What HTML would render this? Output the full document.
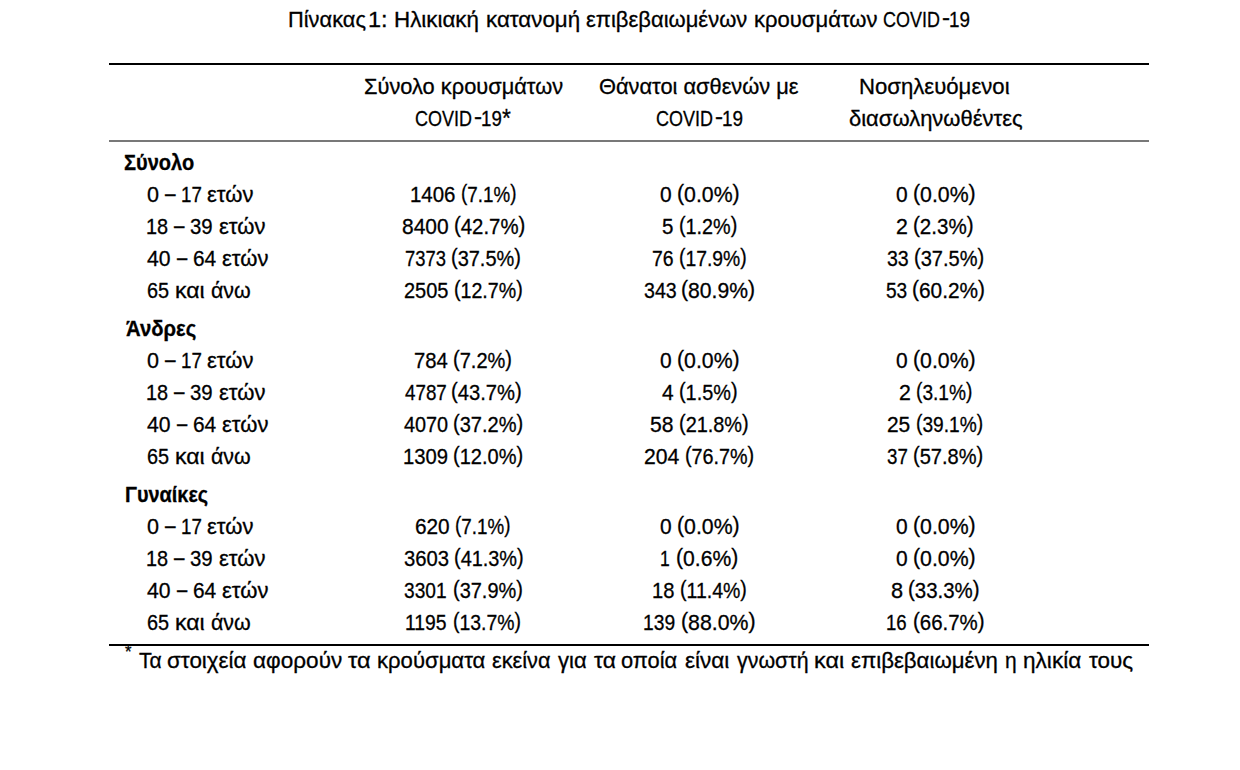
<!DOCTYPE html>
<html lang="el"><head><meta charset="utf-8"><title>Πίνακας 1</title>
<style>
html,body{margin:0;padding:0;background:#fff;}
body{width:1240px;height:770px;position:relative;overflow:hidden;font-family:"Liberation Sans",sans-serif;color:#000;}
.t{position:absolute;transform-origin:0 0;white-space:pre;line-height:1;font-size:22px;color:#000;-webkit-text-stroke:0.3px #000;}
.t i{font-style:normal;position:relative;top:-2px;}
.rule{position:absolute;left:109px;width:1040px;background:#000;}
</style></head><body>
<div class="caption">
  <div class="t" style="left:287.61px;top:9px;font-size:22.5px;transform:scaleX(0.9700)">Πίνακας</div>
  <div class="t" style="left:367.86px;top:9px;font-size:22.5px;transform:scaleX(1.0460)">1:</div>
  <div class="t" style="left:393.81px;top:9px;font-size:22.5px;transform:scaleX(0.9938)">Ηλικιακή</div>
  <div class="t" style="left:485.64px;top:9px;font-size:22.5px;transform:scaleX(0.9932)">κατανομή</div>
  <div class="t" style="left:585.65px;top:9px;font-size:22.5px;transform:scaleX(0.9769)">επιβεβαιωμένων</div>
  <div class="t" style="left:753.66px;top:9px;font-size:22.5px;transform:scaleX(0.9795)">κρουσμάτων</div>
  <div class="t" style="left:883.11px;top:9px;font-size:22.5px;transform:scaleX(0.7990)">COVID</div>
  <div class="t" style="left:949.09px;top:9px;font-size:22.5px;transform:scaleX(0.8382)">19</div>
  <div class="t" style="left:942.39px;top:7px;font-size:22.5px;transform:scaleX(1.0702)">-</div>
</div>
<div class="table">
  <div class="rule" style="top:63px;height:2px"></div>
  <div class="thead">
    <div class="th">
      <div class="t" style="left:363.50px;top:76px;font-size:22px;transform:scaleX(0.9916)">Σύνολο κρουσμάτων</div>
      <div class="t" style="left:474.30px;top:106px;font-size:22px;transform:scaleX(1.0933)">-</div>
      <div class="t" style="left:415.01px;top:108px;font-size:22px;transform:scaleX(0.8171)">COVID</div>
      <div class="t" style="left:481.01px;top:108px;font-size:22px;transform:scaleX(0.8480)">19</div>
      <div class="t" style="left:502.07px;top:106px;font-size:25px;transform:scaleX(0.9095)">*</div>
    </div>
    <div class="th">
      <div class="t" style="left:599.42px;top:76px;font-size:22px;transform:scaleX(0.9914)">Θάνατοι ασθενών με</div>
      <div class="t" style="left:714.90px;top:106px;font-size:22px;transform:scaleX(1.0933)">-</div>
      <div class="t" style="left:655.61px;top:108px;font-size:22px;transform:scaleX(0.8171)">COVID</div>
      <div class="t" style="left:721.59px;top:108px;font-size:22px;transform:scaleX(0.8616)">19</div>
    </div>
    <div class="th">
      <div class="t" style="left:859.44px;top:76px;font-size:22px;transform:scaleX(1.0062)">Νοσηλευόμενοι</div>
      <div class="t" style="left:848.63px;top:108px;font-size:22px;transform:scaleX(0.9992)">διασωληνωθέντες</div>
    </div>
  </div>
  <div class="rule" style="top:140px;height:2px;background:#787878"></div>
  <div class="tbody">
    <div class="grp">
      <div class="t" style="left:124.46px;top:152px;font-size:22px;transform:scaleX(0.9105);font-weight:bold">Σύνολο</div>
    </div>
    <div class="row">
      <div class="t" style="left:147.00px;top:184px;font-size:22px;transform:scaleX(0.9800)">0</div>
      <div class="t" style="left:164.93px;top:183px;font-size:22px;transform:scaleX(0.8623)">–</div>
      <div class="t" style="left:180.70px;top:184px;font-size:22px;transform:scaleX(0.8504)">17</div>
      <div class="t" style="left:206.90px;top:184px;font-size:22px;transform:scaleX(1.0006)">ετών</div>
      <div class="t" style="left:410.18px;top:184px;font-size:22px;transform:scaleX(0.9292)">1406</div>
      <div class="t" style="left:460.96px;top:184px;font-size:22px;transform:scaleX(0.8546)"><i>(</i>7.1%<i>)</i></div>
      <div class="t" style="left:659.92px;top:184px;font-size:22px;transform:scaleX(0.9522)">0</div>
      <div class="t" style="left:676.93px;top:184px;font-size:22px;transform:scaleX(0.9668)"><i>(</i>0.0%<i>)</i></div>
      <div class="t" style="left:895.92px;top:184px;font-size:22px;transform:scaleX(0.9522)">0</div>
      <div class="t" style="left:912.93px;top:184px;font-size:22px;transform:scaleX(0.9668)"><i>(</i>0.0%<i>)</i></div>
    </div>
    <div class="row">
      <div class="t" style="left:146.32px;top:216px;font-size:22px;transform:scaleX(0.9034)">18</div>
      <div class="t" style="left:174.33px;top:215px;font-size:22px;transform:scaleX(0.8543)">–</div>
      <div class="t" style="left:190.36px;top:216px;font-size:22px;transform:scaleX(0.9261)">39</div>
      <div class="t" style="left:219.00px;top:216px;font-size:22px;transform:scaleX(1.0006)">ετών</div>
      <div class="t" style="left:401.93px;top:216px;font-size:22px;transform:scaleX(0.9531)">8400</div>
      <div class="t" style="left:454.28px;top:216px;font-size:22px;transform:scaleX(0.9249)"><i>(</i>42.7%<i>)</i></div>
      <div class="t" style="left:661.92px;top:216px;font-size:22px;transform:scaleX(0.9319)">5</div>
      <div class="t" style="left:678.61px;top:216px;font-size:22px;transform:scaleX(0.8995)"><i>(</i>1.2%<i>)</i></div>
      <div class="t" style="left:896.47px;top:216px;font-size:22px;transform:scaleX(0.9688)">2</div>
      <div class="t" style="left:912.96px;top:216px;font-size:22px;transform:scaleX(0.9348)"><i>(</i>2.3%<i>)</i></div>
    </div>
    <div class="row">
      <div class="t" style="left:147.36px;top:248px;font-size:22px;transform:scaleX(0.9613)">40</div>
      <div class="t" style="left:176.83px;top:247px;font-size:22px;transform:scaleX(0.8383)">–</div>
      <div class="t" style="left:193.08px;top:248px;font-size:22px;transform:scaleX(0.9475)">64</div>
      <div class="t" style="left:222.40px;top:248px;font-size:22px;transform:scaleX(1.0006)">ετών</div>
      <div class="t" style="left:405.18px;top:248px;font-size:22px;transform:scaleX(0.8357)">7373</div>
      <div class="t" style="left:451.40px;top:248px;font-size:22px;transform:scaleX(0.9075)"><i>(</i>37.5%<i>)</i></div>
      <div class="t" style="left:651.74px;top:248px;font-size:22px;transform:scaleX(0.8820)">76</div>
      <div class="t" style="left:678.63px;top:248px;font-size:22px;transform:scaleX(0.8793)"><i>(</i>17.9%<i>)</i></div>
      <div class="t" style="left:886.89px;top:248px;font-size:22px;transform:scaleX(0.8883)">33</div>
      <div class="t" style="left:914.09px;top:248px;font-size:22px;transform:scaleX(0.9101)"><i>(</i>37.5%<i>)</i></div>
    </div>
    <div class="row">
      <div class="t" style="left:146.83px;top:280px;font-size:22px;transform:scaleX(0.9019)">65</div>
      <div class="t" style="left:174.90px;top:280px;font-size:22px;transform:scaleX(1.0478)">και</div>
      <div class="t" style="left:210.95px;top:280px;font-size:22px;transform:scaleX(0.9728)">άνω</div>
      <div class="t" style="left:404.13px;top:280px;font-size:22px;transform:scaleX(0.9087)">2505</div>
      <div class="t" style="left:454.32px;top:280px;font-size:22px;transform:scaleX(0.8914)"><i>(</i>12.7%<i>)</i></div>
      <div class="t" style="left:643.69px;top:280px;font-size:22px;transform:scaleX(0.8892)">343</div>
      <div class="t" style="left:681.33px;top:280px;font-size:22px;transform:scaleX(0.9597)"><i>(</i>80.9%<i>)</i></div>
      <div class="t" style="left:885.67px;top:280px;font-size:22px;transform:scaleX(0.8681)">53</div>
      <div class="t" style="left:912.45px;top:280px;font-size:22px;transform:scaleX(0.9477)"><i>(</i>60.2%<i>)</i></div>
    </div>
    <div class="grp">
      <div class="t" style="left:125.88px;top:318px;font-size:22px;transform:scaleX(0.9231);font-weight:bold">Άνδρες</div>
    </div>
    <div class="row">
      <div class="t" style="left:147.00px;top:350px;font-size:22px;transform:scaleX(0.9800)">0</div>
      <div class="t" style="left:164.93px;top:349px;font-size:22px;transform:scaleX(0.8623)">–</div>
      <div class="t" style="left:180.70px;top:350px;font-size:22px;transform:scaleX(0.8504)">17</div>
      <div class="t" style="left:206.90px;top:350px;font-size:22px;transform:scaleX(1.0006)">ετών</div>
      <div class="t" style="left:414.20px;top:350px;font-size:22px;transform:scaleX(0.9196)">784</div>
      <div class="t" style="left:453.09px;top:350px;font-size:22px;transform:scaleX(0.9107)"><i>(</i>7.2%<i>)</i></div>
      <div class="t" style="left:659.92px;top:350px;font-size:22px;transform:scaleX(0.9522)">0</div>
      <div class="t" style="left:676.93px;top:350px;font-size:22px;transform:scaleX(0.9668)"><i>(</i>0.0%<i>)</i></div>
      <div class="t" style="left:895.92px;top:350px;font-size:22px;transform:scaleX(0.9522)">0</div>
      <div class="t" style="left:912.93px;top:350px;font-size:22px;transform:scaleX(0.9668)"><i>(</i>0.0%<i>)</i></div>
    </div>
    <div class="row">
      <div class="t" style="left:146.32px;top:382px;font-size:22px;transform:scaleX(0.9034)">18</div>
      <div class="t" style="left:174.33px;top:381px;font-size:22px;transform:scaleX(0.8543)">–</div>
      <div class="t" style="left:190.36px;top:382px;font-size:22px;transform:scaleX(0.9261)">39</div>
      <div class="t" style="left:219.00px;top:382px;font-size:22px;transform:scaleX(1.0006)">ετών</div>
      <div class="t" style="left:405.20px;top:382px;font-size:22px;transform:scaleX(0.8545)">4787</div>
      <div class="t" style="left:451.39px;top:382px;font-size:22px;transform:scaleX(0.9182)"><i>(</i>43.7%<i>)</i></div>
      <div class="t" style="left:661.96px;top:382px;font-size:22px;transform:scaleX(0.9485)">4</div>
      <div class="t" style="left:678.60px;top:382px;font-size:22px;transform:scaleX(0.9027)"><i>(</i>1.5%<i>)</i></div>
      <div class="t" style="left:898.67px;top:382px;font-size:22px;transform:scaleX(0.9688)">2</div>
      <div class="t" style="left:915.54px;top:382px;font-size:22px;transform:scaleX(0.8706)"><i>(</i>3.1%<i>)</i></div>
    </div>
    <div class="row">
      <div class="t" style="left:147.36px;top:414px;font-size:22px;transform:scaleX(0.9613)">40</div>
      <div class="t" style="left:176.83px;top:413px;font-size:22px;transform:scaleX(0.8383)">–</div>
      <div class="t" style="left:193.08px;top:414px;font-size:22px;transform:scaleX(0.9475)">64</div>
      <div class="t" style="left:222.40px;top:414px;font-size:22px;transform:scaleX(1.0006)">ετών</div>
      <div class="t" style="left:403.98px;top:414px;font-size:22px;transform:scaleX(0.9023)">4070</div>
      <div class="t" style="left:453.39px;top:414px;font-size:22px;transform:scaleX(0.9115)"><i>(</i>37.2%<i>)</i></div>
      <div class="t" style="left:649.90px;top:414px;font-size:22px;transform:scaleX(0.9593)">58</div>
      <div class="t" style="left:678.60px;top:414px;font-size:22px;transform:scaleX(0.9048)"><i>(</i>21.8%<i>)</i></div>
      <div class="t" style="left:887.09px;top:414px;font-size:22px;transform:scaleX(0.9499)">25</div>
      <div class="t" style="left:915.54px;top:414px;font-size:22px;transform:scaleX(0.8713)"><i>(</i>39.1%<i>)</i></div>
    </div>
    <div class="row">
      <div class="t" style="left:146.83px;top:446px;font-size:22px;transform:scaleX(0.9019)">65</div>
      <div class="t" style="left:174.90px;top:446px;font-size:22px;transform:scaleX(1.0478)">και</div>
      <div class="t" style="left:210.95px;top:446px;font-size:22px;transform:scaleX(0.9728)">άνω</div>
      <div class="t" style="left:403.19px;top:446px;font-size:22px;transform:scaleX(0.9221)">1309</div>
      <div class="t" style="left:453.39px;top:446px;font-size:22px;transform:scaleX(0.9101)"><i>(</i>12.0%<i>)</i></div>
      <div class="t" style="left:644.38px;top:446px;font-size:22px;transform:scaleX(0.9616)">204</div>
      <div class="t" style="left:684.81px;top:446px;font-size:22px;transform:scaleX(0.8981)"><i>(</i>76.7%<i>)</i></div>
      <div class="t" style="left:886.92px;top:446px;font-size:22px;transform:scaleX(0.8499)">37</div>
      <div class="t" style="left:913.49px;top:446px;font-size:22px;transform:scaleX(0.9115)"><i>(</i>57.8%<i>)</i></div>
    </div>
    <div class="grp">
      <div class="t" style="left:124.91px;top:484px;font-size:22px;transform:scaleX(0.9033);font-weight:bold">Γυναίκες</div>
    </div>
    <div class="row">
      <div class="t" style="left:147.00px;top:516px;font-size:22px;transform:scaleX(0.9800)">0</div>
      <div class="t" style="left:164.93px;top:515px;font-size:22px;transform:scaleX(0.8623)">–</div>
      <div class="t" style="left:180.70px;top:516px;font-size:22px;transform:scaleX(0.8504)">17</div>
      <div class="t" style="left:206.90px;top:516px;font-size:22px;transform:scaleX(1.0006)">ετών</div>
      <div class="t" style="left:415.49px;top:516px;font-size:22px;transform:scaleX(0.9449)">620</div>
      <div class="t" style="left:455.46px;top:516px;font-size:22px;transform:scaleX(0.8546)"><i>(</i>7.1%<i>)</i></div>
      <div class="t" style="left:659.92px;top:516px;font-size:22px;transform:scaleX(0.9522)">0</div>
      <div class="t" style="left:676.93px;top:516px;font-size:22px;transform:scaleX(0.9668)"><i>(</i>0.0%<i>)</i></div>
      <div class="t" style="left:895.92px;top:516px;font-size:22px;transform:scaleX(0.9522)">0</div>
      <div class="t" style="left:912.93px;top:516px;font-size:22px;transform:scaleX(0.9668)"><i>(</i>0.0%<i>)</i></div>
    </div>
    <div class="row">
      <div class="t" style="left:146.32px;top:548px;font-size:22px;transform:scaleX(0.9034)">18</div>
      <div class="t" style="left:174.33px;top:547px;font-size:22px;transform:scaleX(0.8543)">–</div>
      <div class="t" style="left:190.36px;top:548px;font-size:22px;transform:scaleX(0.9261)">39</div>
      <div class="t" style="left:219.00px;top:548px;font-size:22px;transform:scaleX(1.0006)">ετών</div>
      <div class="t" style="left:403.57px;top:548px;font-size:22px;transform:scaleX(0.9212)">3603</div>
      <div class="t" style="left:453.80px;top:548px;font-size:22px;transform:scaleX(0.9048)"><i>(</i>41.3%<i>)</i></div>
      <div class="t" style="left:660.18px;top:548px;font-size:22px;transform:scaleX(0.7971)">1</div>
      <div class="t" style="left:675.73px;top:548px;font-size:22px;transform:scaleX(0.9604)"><i>(</i>0.6%<i>)</i></div>
      <div class="t" style="left:895.92px;top:548px;font-size:22px;transform:scaleX(0.9522)">0</div>
      <div class="t" style="left:912.93px;top:548px;font-size:22px;transform:scaleX(0.9668)"><i>(</i>0.0%<i>)</i></div>
    </div>
    <div class="row">
      <div class="t" style="left:147.36px;top:580px;font-size:22px;transform:scaleX(0.9613)">40</div>
      <div class="t" style="left:176.83px;top:579px;font-size:22px;transform:scaleX(0.8383)">–</div>
      <div class="t" style="left:193.08px;top:580px;font-size:22px;transform:scaleX(0.9475)">64</div>
      <div class="t" style="left:222.40px;top:580px;font-size:22px;transform:scaleX(1.0006)">ετών</div>
      <div class="t" style="left:404.40px;top:580px;font-size:22px;transform:scaleX(0.8705)">3301</div>
      <div class="t" style="left:452.60px;top:580px;font-size:22px;transform:scaleX(0.9075)"><i>(</i>37.9%<i>)</i></div>
      <div class="t" style="left:652.20px;top:580px;font-size:22px;transform:scaleX(0.9169)">18</div>
      <div class="t" style="left:679.52px;top:580px;font-size:22px;transform:scaleX(0.8867)"><i>(</i>11.4%<i>)</i></div>
      <div class="t" style="left:891.10px;top:580px;font-size:22px;transform:scaleX(0.9884)">8</div>
      <div class="t" style="left:908.47px;top:580px;font-size:22px;transform:scaleX(0.9289)"><i>(</i>33.3%<i>)</i></div>
    </div>
    <div class="row">
      <div class="t" style="left:146.83px;top:612px;font-size:22px;transform:scaleX(0.9019)">65</div>
      <div class="t" style="left:174.90px;top:612px;font-size:22px;transform:scaleX(1.0478)">και</div>
      <div class="t" style="left:210.95px;top:612px;font-size:22px;transform:scaleX(0.9728)">άνω</div>
      <div class="t" style="left:405.36px;top:612px;font-size:22px;transform:scaleX(0.8776)">1195</div>
      <div class="t" style="left:452.63px;top:612px;font-size:22px;transform:scaleX(0.8820)"><i>(</i>13.7%<i>)</i></div>
      <div class="t" style="left:643.37px;top:612px;font-size:22px;transform:scaleX(0.8749)">139</div>
      <div class="t" style="left:680.72px;top:612px;font-size:22px;transform:scaleX(0.9678)"><i>(</i>88.0%<i>)</i></div>
      <div class="t" style="left:886.21px;top:612px;font-size:22px;transform:scaleX(0.8451)">16</div>
      <div class="t" style="left:912.97px;top:612px;font-size:22px;transform:scaleX(0.9289)"><i>(</i>66.7%<i>)</i></div>
    </div>
  </div>
  <div class="rule" style="top:644px;height:2px"></div>
</div>
<div class="footnote">
  <div class="t" style="left:125.07px;top:643px;font-size:18px;transform:scaleX(0.9356)">*</div>
  <div class="t" style="left:138.97px;top:650px;font-size:22.5px;transform:scaleX(0.9370)">Τα</div>
  <div class="t" style="left:167.21px;top:650px;font-size:22.5px;transform:scaleX(0.9965)">στοιχεία</div>
  <div class="t" style="left:253.45px;top:650px;font-size:22.5px;transform:scaleX(1.0031)">αφορούν</div>
  <div class="t" style="left:347.82px;top:650px;font-size:22.5px;transform:scaleX(1.0521)">τα</div>
  <div class="t" style="left:376.66px;top:650px;font-size:22.5px;transform:scaleX(0.9821)">κρούσματα</div>
  <div class="t" style="left:491.90px;top:650px;font-size:22.5px;transform:scaleX(0.9672)">εκείνα</div>
  <div class="t" style="left:558.07px;top:650px;font-size:22.5px;transform:scaleX(0.9798)">για</div>
  <div class="t" style="left:593.58px;top:650px;font-size:22.5px;transform:scaleX(1.0162)">τα</div>
  <div class="t" style="left:621.23px;top:650px;font-size:22.5px;transform:scaleX(0.9713)">οποία</div>
  <div class="t" style="left:684.88px;top:650px;font-size:22.5px;transform:scaleX(1.0016)">είναι</div>
  <div class="t" style="left:737.07px;top:650px;font-size:22.5px;transform:scaleX(0.9512)">γνωστή</div>
  <div class="t" style="left:814.08px;top:650px;font-size:22.5px;transform:scaleX(1.0413)">και</div>
  <div class="t" style="left:850.64px;top:650px;font-size:22.5px;transform:scaleX(0.9873)">επιβεβαιωμένη</div>
  <div class="t" style="left:1004.55px;top:650px;font-size:22.5px;transform:scaleX(0.9325)">η</div>
  <div class="t" style="left:1022.73px;top:650px;font-size:22.5px;transform:scaleX(1.0043)">ηλικία</div>
  <div class="t" style="left:1088.58px;top:650px;font-size:22.5px;transform:scaleX(0.9984)">τους</div>
</div>
</body></html>
